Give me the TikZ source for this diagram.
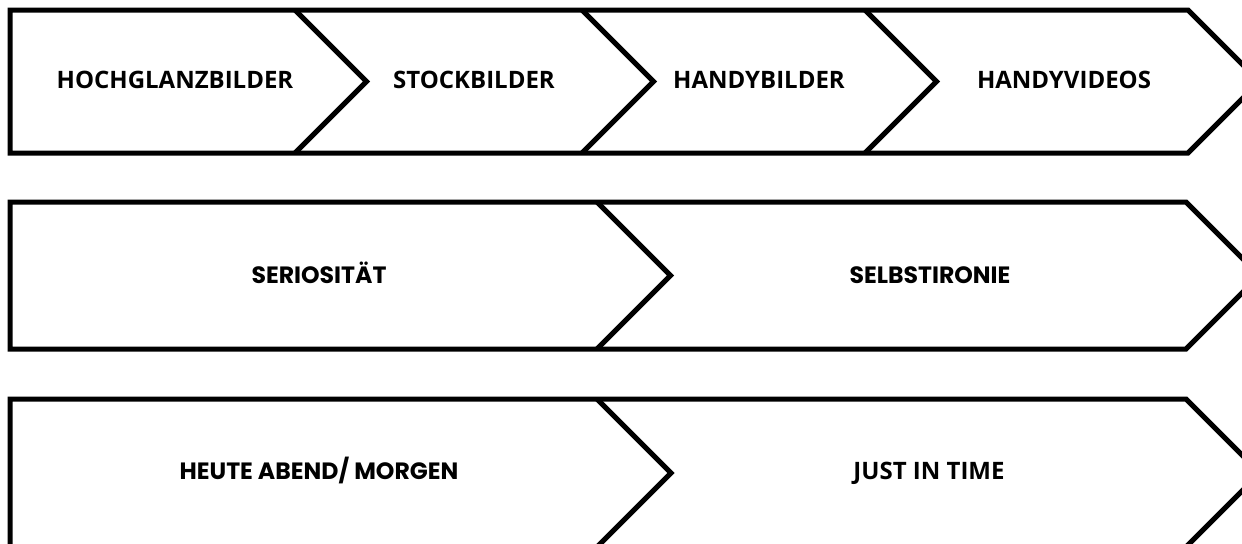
\documentclass[tikz,border=0pt]{standalone}
\usepackage{fontspec}
\setmainfont{Open Sans}
\newfontfamily\geofont{Poppins}

\tikzset{
    chev/.style={line width=2.5pt, line join=miter, black},
    lbl/.style={font=\fontsize{12}{14}\selectfont\bfseries, inner sep=0pt, anchor=base},
    lblgeo/.style={font=\geofont\fontsize{11.8}{14}\selectfont\bfseries, inner sep=0pt, anchor=base}
}

\begin{document}
\begin{tikzpicture}[x=0.5pt,y=-0.5pt]
        \useasboundingbox (0,0) rectangle (1242,543);
        \clip (0,0) rectangle (1242,543);

        % Zeile 1: Bilder
        \draw[chev] (10,10) -- (1188,10) -- (1259.5,81.5) -- (1188,153) -- (10,153) -- cycle;
        \foreach \x in {295,582,865}{
            \draw[chev] (\x,10) -- (\x+71.5,81.5) -- (\x,153);
        }

        % Zeile 2: Tonalitaet
        \draw[chev] (10,202) -- (1186,202) -- (1259.5,275.5) -- (1186,349) -- (10,349) -- cycle;
        \draw[chev] (597,202) -- (670.5,275.5) -- (597,349);

        % Zeile 3: Timing
        \draw[chev] (10,399) -- (1186,399) -- (1260,473) -- (1186,547) -- (10,547) -- cycle;
        \draw[chev] (597,399) -- (671,473) -- (597,547);

        \node[lbl] (hochglanz) at (175,88) {HOCHGLANZBILDER};
        \node[lbl] (stock) at (474,88) {STOCKBILDER};
        \node[lbl] (handybild) at (759,88) {HANDYBILDER};
        \node[lbl] (handyvid) at (1064,88) {HANDYVIDEOS};

        \node[lblgeo] (seriositaet) at (319,283) {SERIOSITÄT};
        \node[lblgeo] (selbstironie) at (930,283) {SELBSTIRONIE};

        \node[lblgeo] (heute) at (319,479) {HEUTE ABEND/ MORGEN};
        \node[lbl] (justintime) at (929,479) {JUST IN TIME};
\end{tikzpicture}
\end{document}
